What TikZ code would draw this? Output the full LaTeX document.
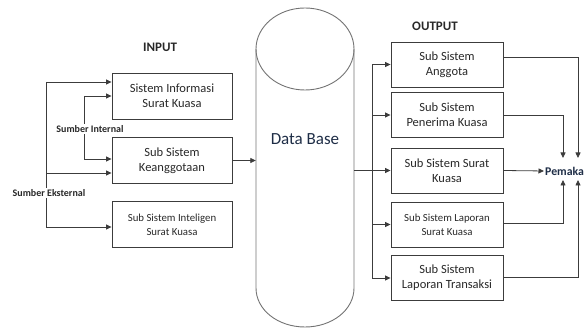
\documentclass[tikz,border=0pt]{standalone}
\usepackage{fontspec}
\setmainfont{Carlito}
\usetikzlibrary{arrows.meta}
\definecolor{txt}{RGB}{40,40,40}
\definecolor{navy}{RGB}{30,45,70}
\definecolor{lncol}{RGB}{60,60,60}
\begin{document}
\begin{tikzpicture}[x=1pt,y=-1pt,
  box/.style={draw=lncol, line width=0.9pt, align=center, inner sep=0pt, text=txt,
    font=\fontsize{12.5}{15.3}\selectfont},
  lbox/.style={box, minimum width=120pt, minimum height=46pt},
  rbox/.style={box, minimum width=112pt, minimum height=45pt},
  small/.style={font=\fontsize{10.8}{14}\selectfont},
  arr/.style={draw=lncol, line width=0.8pt, -{Triangle[length=5.5pt,width=5pt]}},
  ln/.style={draw=lncol, line width=0.8pt},
  lbl/.style={font=\fontsize{10}{12}\selectfont\bfseries, text=txt, fill=white, inner sep=1pt},
  title/.style={font=\fontsize{13}{15}\selectfont\bfseries, text=txt}
]
\useasboundingbox (0,0) rectangle (584,328);

% titles
\node[title] (tin) at (160,47) {INPUT};
\node[title] (tout) at (435,26) {OUTPUT};

% input boxes
\node[lbox] (b1) at (172,96) {Sistem Informasi\\Surat Kuasa};
\node[lbox] (b2) at (172,160.5) {Sub Sistem\\Keanggotaan};
\node[lbox, small] (b3) at (172,224.5) {Sub Sistem Inteligen\\Surat Kuasa};

% database cylinder
\draw[draw=black!55, line width=0.9pt] (305,49) ellipse[x radius=49, y radius=41];
\draw[draw=black!55, line width=0.9pt] (256,49) -- (256,288)
  .. controls (256,310) and (278,327) .. (305,327)
  .. controls (332,327) and (354,310) .. (354,288) -- (354,49);
\node[minimum width=98pt, minimum height=239pt, inner sep=0pt, draw=none] (db) at (305,168.5) {};
\node[font=\fontsize{17}{20}\selectfont, text=navy] (dbt) at (305,139) {Data Base};

% output boxes
\node[rbox] (oA) at (447,64.5) {Sub Sistem\\Anggota};
\node[rbox] (oB) at (447,115) {Sub Sistem\\Penerima Kuasa};
\node[rbox] (oC) at (447,170.5) {Sub Sistem Surat\\Kuasa};
\node[rbox, small] (oD) at (447,224.5) {Sub Sistem Laporan\\Surat Kuasa};
\node[rbox] (oE) at (447,278) {Sub Sistem\\Laporan Transaksi};

\node[anchor=west, font=\fontsize{11.8}{14}\selectfont\bfseries, text=navy, inner sep=0pt] (pem) at (545,171) {Pemaka};

% input connectors
\coordinate (e1) at (46,82);
\coordinate (e2) at (46,173);
\coordinate (e3) at (46,227);
\coordinate (i1) at (84,96);
\coordinate (i2) at (84,159);
\draw[ln] (e1) -- (e3);
\draw[arr] (e1) -- (e1 -| b1.west);
\draw[arr] (e2) -- (e2 -| b2.west);
\draw[arr] (e3) -- (e3 -| b3.west);
\draw[ln] (i1) -- (i2);
\draw[arr] (i1) -- (i1 -| b1.west);
\draw[arr] (i2) -- (i2 -| b2.west);
\node[lbl] (si) at (90,129) {Sumber Internal};
\node[lbl] (se) at (49,193) {Sumber Eksternal};

\draw[arr] (b2.east) -- (b2.east -| db.west);

% output connectors
\coordinate (bus) at (372,170.5);
\draw[ln] (db.east |- bus) -- (bus);
\draw[ln] (bus |- oA) -- (bus |- oE);
\foreach \o in {oA,oB,oC,oD,oE} \draw[arr] (bus |- \o) -- (\o.west);

\coordinate (pA) at (578,57);
\coordinate (pB) at (563,115);
\coordinate (pD) at (563,223);
\coordinate (pE) at (578,277);
\coordinate (tA) at (578,158);
\coordinate (tB) at (563,158);
\coordinate (tD) at (563,180);
\coordinate (tE) at (578,180);
\draw[arr] (oA.east |- pA) -- (pA) -- (tA);
\draw[arr] (oB.east |- pB) -- (pB) -- (tB);
\draw[arr, shorten >=1pt] (oC.east) -- (pem.west);
\draw[arr] (oD.east |- pD) -- (pD) -- (tD);
\draw[arr] (oE.east |- pE) -- (pE) -- (tE);
\end{tikzpicture}
\end{document}
